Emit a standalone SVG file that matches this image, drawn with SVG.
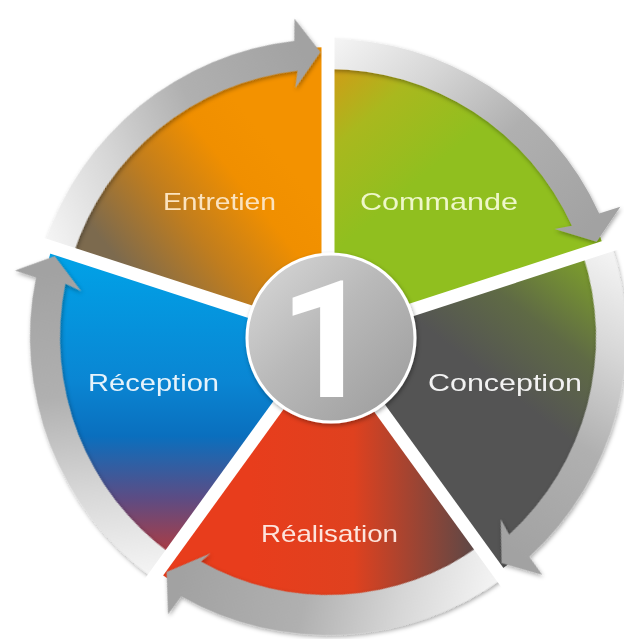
<svg xmlns="http://www.w3.org/2000/svg" xmlns:xlink="http://www.w3.org/1999/xlink" width="624" height="639" viewBox="0 0 624 639">
  <style>
    .lbl { font-family: "Liberation Sans", Arial, sans-serif; font-size: 24px; }
    .num { font-family: Roboto, "Open Sans", Inter, "Liberation Sans", sans-serif; font-weight: 700; font-size: 163px; fill: #ffffff; }
    .gap { stroke: #ffffff; stroke-width: 13; stroke-linecap: butt; }
  </style>
  <defs>
    <filter id="sh" x="-15%" y="-15%" width="130%" height="130%">
      <feDropShadow dx="1" dy="2" stdDeviation="2" flood-color="#000000" flood-opacity="0.35"/>
    </filter>
    <linearGradient id="gArrow" x1="0" y1="0" x2="1" y2="0.8">
      <stop offset="0" stop-color="#f6f6f6"/>
      <stop offset="0.3" stop-color="#d6d6d6"/>
      <stop offset="0.6" stop-color="#b0b0b0"/>
      <stop offset="1" stop-color="#a2a2a2"/>
    </linearGradient>
    <linearGradient id="gCom" gradientUnits="userSpaceOnUse" x1="335" y1="60" x2="430" y2="170">
      <stop offset="0" stop-color="#d39a16"/>
      <stop offset="0.45" stop-color="#a9b81e"/>
      <stop offset="1" stop-color="#90bf1f"/>
    </linearGradient>
    <linearGradient id="gCon" gradientUnits="userSpaceOnUse" x1="570" y1="255" x2="480" y2="370">
      <stop offset="0" stop-color="#7a9a2e"/>
      <stop offset="0.5" stop-color="#5f6a45"/>
      <stop offset="1" stop-color="#545454"/>
    </linearGradient>
    <linearGradient id="gRea" gradientUnits="userSpaceOnUse" x1="250" y1="0" x2="480" y2="0">
      <stop offset="0" stop-color="#e83d1c"/>
      <stop offset="0.45" stop-color="#df411f"/>
      <stop offset="1" stop-color="#574848"/>
    </linearGradient>
    <linearGradient id="gRec" gradientUnits="userSpaceOnUse" x1="0" y1="250" x2="0" y2="560">
      <stop offset="0" stop-color="#00a3e8"/>
      <stop offset="0.42" stop-color="#0a86d3"/>
      <stop offset="0.6" stop-color="#0a6fbe"/>
      <stop offset="0.8" stop-color="#5c4c84"/>
      <stop offset="1" stop-color="#b83a3a"/>
    </linearGradient>
    <linearGradient id="gEnt" gradientUnits="userSpaceOnUse" x1="110" y1="250" x2="260" y2="130">
      <stop offset="0" stop-color="#7c6a4e"/>
      <stop offset="0.4" stop-color="#c07d1e"/>
      <stop offset="0.75" stop-color="#f08f00"/>
      <stop offset="1" stop-color="#f39200"/>
    </linearGradient>
    <linearGradient id="gCircle" x1="0" y1="0" x2="1" y2="1">
      <stop offset="0" stop-color="#dadada"/>
      <stop offset="0.45" stop-color="#b9b9b9"/>
      <stop offset="1" stop-color="#9a9a9a"/>
    </linearGradient>
    <path id="arrow" d="M328,39 A298,298 0 0,1 599.17,213.42 L620.34,206.84 L596.65,241.86 L554.55,228.94 L571.87,225.86 A268,268 0 0,0 328,69 Z" fill="url(#gArrow)"/>
    <path id="arrowThick" d="M328,39 A298,298 0 0,1 599.17,213.42 L620.34,206.84 L596.65,241.86 L550.04,231.09 L562.77,230.01 A258,258 0 0,0 328,79 Z" fill="url(#gArrow)"/>
  </defs>

  <g id="sectors">
    <path id="sector-commande" d="M328,337 L328,47 A290,290 0 0,1 603.81,247.38 Z" fill="url(#gCom)"/>
    <path id="sector-conception" d="M328,337 L603.81,247.38 A290,290 0 0,1 498.46,571.61 Z" fill="url(#gCon)"/>
    <path id="sector-realisation" d="M328,337 L498.46,571.61 A290,290 0 0,1 157.54,571.61 Z" fill="url(#gRea)"/>
    <path id="sector-reception" d="M328,337 L157.54,571.61 A290,290 0 0,1 52.19,247.38 Z" fill="url(#gRec)"/>
    <path id="sector-entretien" d="M328,337 L52.19,247.38 A290,290 0 0,1 328,47 Z" fill="url(#gEnt)"/>
  </g>

  <g id="connectors" filter="url(#sh)">
    <use xlink:href="#arrow" href="#arrow"/>
    <use xlink:href="#arrow" href="#arrow" transform="rotate(72 328 337)"/>
    <use xlink:href="#arrowThick" href="#arrowThick" transform="rotate(144 328 337)"/>
    <use xlink:href="#arrow" href="#arrow" transform="rotate(216 328 337)"/>
    <use xlink:href="#arrow" href="#arrow" transform="rotate(288 328 337)"/>
  </g>

  <g id="gaps" class="gap">
    <line x1="328" y1="337" x2="328" y2="5"/>
    <line x1="328" y1="337" x2="642" y2="235"/>
    <line x1="328" y1="337" x2="523" y2="606"/>
    <line x1="328" y1="337" x2="133" y2="606"/>
    <line x1="328" y1="337" x2="14" y2="235"/>
  </g>

  <g id="center">
    <circle cx="331" cy="338" r="84" fill="url(#gCircle)" stroke="#ffffff" stroke-width="3" filter="url(#sh)"/>
    <text class="num" x="326" y="397" text-anchor="middle">1</text>
  </g>

  <g id="node-entretien"><text class="lbl" x="163" y="210" textLength="113" lengthAdjust="spacingAndGlyphs" fill="#fbe3bf">Entretien</text></g>
  <g id="node-commande"><text class="lbl" x="360" y="210" textLength="158" lengthAdjust="spacingAndGlyphs" fill="#eef7c9">Commande</text></g>
  <g id="node-conception"><text class="lbl" x="428" y="391" textLength="154" lengthAdjust="spacingAndGlyphs" fill="#f2f2f2">Conception</text></g>
  <g id="node-realisation"><text class="lbl" x="261" y="542" textLength="137" lengthAdjust="spacingAndGlyphs" fill="#fde4dc">Réalisation</text></g>
  <g id="node-reception"><text class="lbl" x="88" y="391" textLength="131" lengthAdjust="spacingAndGlyphs" fill="#e6f3fb">Réception</text></g>
</svg>
